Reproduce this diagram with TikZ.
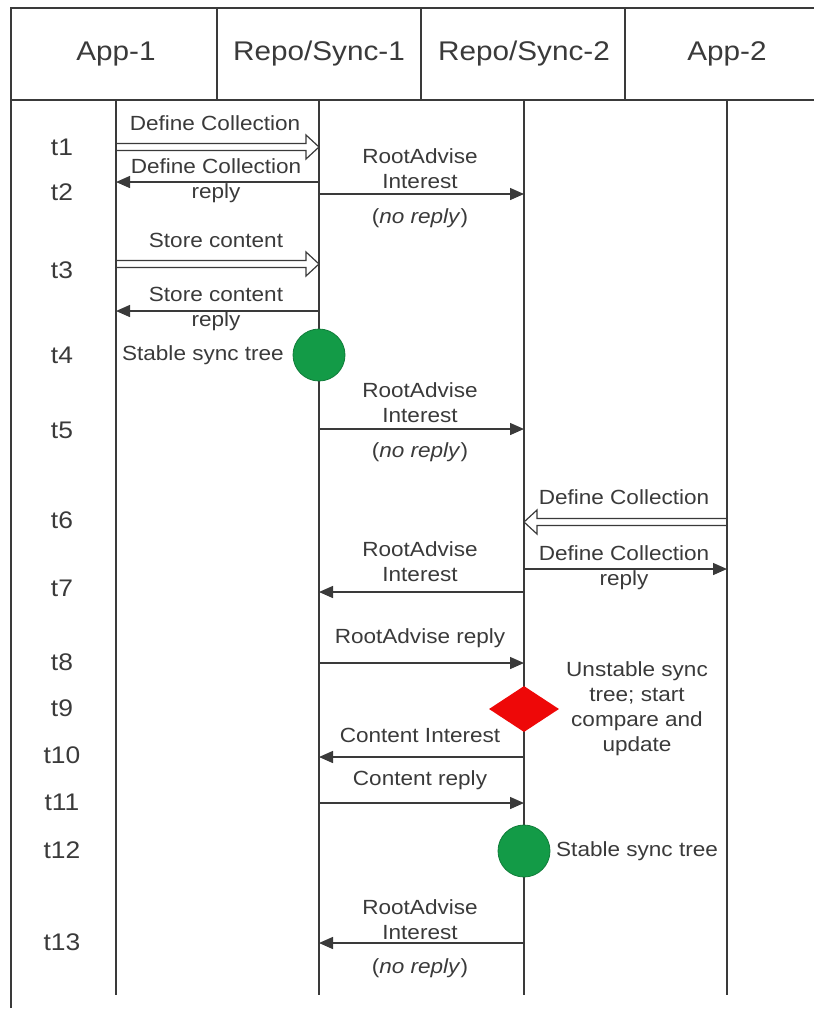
\documentclass[tikz,border=0pt]{standalone}
\usepackage{fontspec}
\setmainfont{Liberation Sans}[FakeStretch=1.1]
\usetikzlibrary{arrows.meta,calc,shapes.geometric}

\definecolor{inkgray}{HTML}{3A3A3A}
\definecolor{syncgreen}{HTML}{139B47}
\definecolor{syncred}{HTML}{EE0808}

\tikzset{
  life/.style={line width=1.6pt, draw=inkgray},
  msg/.style={line width=1.4pt, draw=inkgray, -{Triangle[length=14pt,width=12pt]}},
  hollow/.style={line width=1.2pt, draw=inkgray, line join=miter},
  lbl/.style={text=inkgray, font=\fontsize{20.5}{25}\selectfont, align=center, inner sep=0pt},
  head/.style={text=inkgray, font=\fontsize{27}{30}\selectfont, inner sep=0pt},
  timelbl/.style={text=inkgray, font=\fontsize{24}{28}\selectfont, inner sep=0pt},
  stable/.style={circle, fill=syncgreen, draw=syncgreen!80!black, line width=0.8pt, minimum size=52pt, inner sep=0pt},
  unstable/.style={diamond, fill=syncred, minimum width=70pt, minimum height=46pt, inner sep=0pt}
}

% open (hollow) arrow between two points on the same row
\newcommand{\hollowarrow}[2]{%
  \draw[hollow] let \p1=(#1), \p2=(#2), \n1={ifthenelse(\x2>\x1,1,-1)} in
    (\x1,\y1+3.5pt) -- (\x2-\n1*13pt,\y1+3.5pt) -- (\x2-\n1*13pt,\y1+12pt)
    -- (\x2,\y2) -- (\x2-\n1*13pt,\y1-12pt) -- (\x2-\n1*13pt,\y1-3.5pt) -- (\x1,\y1-3.5pt);}

\begin{document}
\begin{tikzpicture}[x=1pt,y=-1pt]
  \useasboundingbox (0,0) rectangle (814,1010);

  % Frame and header grid
  \draw[life] (11,1008) -- (11,8) -- (814,8);
  \draw[life] (11,100) -- (814,100);
  \draw[life] (217,8) -- (217,100);
  \draw[life] (421,8) -- (421,100);
  \draw[life] (625,8) -- (625,100);

  % Header
  \node[head] (app1)  at (116,54) {App-1};
  \node[head] (repo1) at (319,54) {Repo/Sync-1};
  \node[head] (repo2) at (524,54) {Repo/Sync-2};
  \node[head] (app2)  at (727,54) {App-2};

  % Lifelines
  \coordinate (top) at (0,100);
  \coordinate (bot) at (0,995);
  \draw[life] (app1 |- top) -- (app1 |- bot);
  \draw[life] (repo1 |- top) -- (repo1 |- bot);
  \draw[life] (repo2 |- top) -- (repo2 |- bot);
  \draw[life] (app2 |- top) -- (app2 |- bot);

  % Time marks
  \node[timelbl] (t1)  at (62,147) {t1};
  \node[timelbl] (t2)  at (62,192) {t2};
  \node[timelbl] (t3)  at (62,270) {t3};
  \node[timelbl] (t4)  at (62,355) {t4};
  \node[timelbl] (t5)  at (62,430) {t5};
  \node[timelbl] (t6)  at (62,520) {t6};
  \node[timelbl] (t7)  at (62,588) {t7};
  \node[timelbl] (t8)  at (62,662) {t8};
  \node[timelbl] (t9)  at (62,708) {t9};
  \node[timelbl] (t10) at (62,755) {t10};
  \node[timelbl] (t11) at (62,802) {t11};
  \node[timelbl] (t12) at (62,850) {t12};
  \node[timelbl] (t13) at (62,942) {t13};

  % Message rows
  \coordinate (dcoll)    at (0,147);
  \coordinate (dcrep)    at (0,182);
  \coordinate (rootA)    at (0,194);
  \coordinate (store)    at (0,264);
  \coordinate (storerep) at (0,311);
  \coordinate (rootB)    at (0,429);
  \coordinate (dcoll2)   at (0,522);
  \coordinate (dcrep2)   at (0,569);
  \coordinate (rootC)    at (0,592);
  \coordinate (rootrep)  at (0,663);
  \coordinate (cint)     at (0,757);
  \coordinate (crep)     at (0,803);
  \coordinate (rootD)    at (0,943);

  % App-1 <-> Repo/Sync-1
  \hollowarrow{app1 |- dcoll}{repo1 |- dcoll}
  \node[lbl] (dcollL) at (215,123) {Define Collection};
  \draw[msg] (repo1 |- dcrep) -- (app1 |- dcrep);
  \node[lbl] (dcrepL) at (216,181) {Define Collection\\reply};
  \hollowarrow{app1 |- store}{repo1 |- store}
  \node[lbl] (storeL) at (216,240) {Store content};
  \draw[msg] (repo1 |- storerep) -- (app1 |- storerep);
  \node[lbl] (storerepL) at (216,309) {Store content\\reply};

  % Repo/Sync-1 -> Repo/Sync-2
  \draw[msg] (repo1 |- rootA) -- (repo2 |- rootA);
  \node[lbl] (rootAL) at (420,169) {RootAdvise\\Interest};
  \node[lbl] (rootAN) at (420,218) {(\textit{no reply})};
  \draw[msg] (repo1 |- rootB) -- (repo2 |- rootB);
  \node[lbl] (rootBL) at (420,403) {RootAdvise\\Interest};
  \node[lbl] (rootBN) at (420,452) {(\textit{no reply})};

  % App-2 <-> Repo/Sync-2
  \hollowarrow{app2 |- dcoll2}{repo2 |- dcoll2}
  \node[lbl] (dcoll2L) at (624,497) {Define Collection};
  \draw[msg] (repo2 |- dcrep2) -- (app2 |- dcrep2);
  \node[lbl] (dcrep2L) at (624,568) {Define Collection\\reply};

  % Sync exchange
  \draw[msg] (repo2 |- rootC) -- (repo1 |- rootC);
  \node[lbl] (rootCL) at (420,562) {RootAdvise\\Interest};
  \draw[msg] (repo1 |- rootrep) -- (repo2 |- rootrep);
  \node[lbl] (rootrepL) at (420,638) {RootAdvise reply};
  \draw[msg] (repo2 |- cint) -- (repo1 |- cint);
  \node[lbl] (cintL) at (420,735) {Content Interest};
  \draw[msg] (repo1 |- crep) -- (repo2 |- crep);
  \node[lbl] (crepL) at (420,780) {Content reply};
  \draw[msg] (repo2 |- rootD) -- (repo1 |- rootD);
  \node[lbl] (rootDL) at (420,920) {RootAdvise\\Interest};
  \node[lbl] (rootDN) at (420,968) {(\textit{no reply})};

  % Tree states
  \node[stable] (stable1) at (319,355) {};
  \node[lbl, anchor=east] (stable1L) at (284,355) {Stable sync tree};
  \node[unstable] (unstab) at (524,709) {};
  \node[lbl] (unstabL) at (637,709) {Unstable sync\\tree; start\\compare and\\update};
  \node[stable] (stable2) at (524,851) {};
  \node[lbl, anchor=west] (stable2L) at (556,851) {Stable sync tree};
\end{tikzpicture}
\end{document}
